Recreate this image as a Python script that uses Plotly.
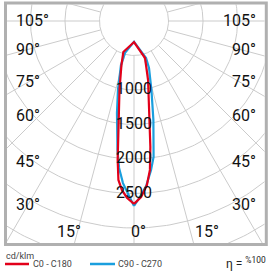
import numpy as np
import plotly.graph_objects as go

# ---------------- data ----------------
# gamma angle in degrees from nadir (negative = left half), intensity in cd/klm
c0_angles = [0, -2.3, -4.1, -5.6, -6.7, -8.6, -11.9, -15.9, -19.0, 0, 16.6, 13.4, 9.6, 7.4, 6.1, 4.5, 2.3, 0]
c0_values = [2650, 2565, 2455, 2315, 2030, 1525, 1020, 665, 475, 305, 560, 880, 1350, 1840, 2170, 2385, 2555, 2650]

c90_angles = [0, -1.6, -3.9, -5.8, -7.3, -10.5, -13.1, -16.5, -15.7, 0, 18.0, 17.7, 14.2, 11.1, 8.2, 6.5, 4.2, 1.95, 0]
c90_values = [2680, 2535, 2355, 2140, 1885, 1355, 1025, 665, 480, 300, 565, 715, 1030, 1460, 1990, 2175, 2400, 2550, 2680]

ring_values = [500, 1000, 1500, 2000, 2500, 3000, 3500]
ring_labels = [1000, 1500, 2000, 2500]
spoke_angles = list(range(-180, 181, 15))
left_angle_labels = ["105°", "90°", "75°", "60°", "45°", "30°"]
bottom_angle_labels = ["15°", "0°", "15°"]
series_names = ["C0 - C180", "C90 - C270"]
unit_label = "cd/klm"
efficiency = "%100"

RED = "#e2001a"
BLUE = "#1a9fde"
GRID = "#cbcbcb"
FONT = "Roboto, Arial, sans-serif"

W, H = 268, 273
CX, CY = 134.0, 21.0      # pixel position of the polar origin
S = 0.069                 # pixels per cd/klm
PL, PR, PT, PB = 7.0, 264.5, 4.5, 243.0   # plot area in pixels


def to_xy(ang, val):
    a = np.radians(np.asarray(ang, float))
    v = np.asarray(val, float)
    return v * np.sin(a), -v * np.cos(a)


fig = go.Figure()

# rings
t = np.linspace(0, 2 * np.pi, 361)
for r in ring_values:
    fig.add_trace(go.Scatter(x=r * np.cos(t), y=r * np.sin(t), mode="lines",
                             line=dict(color=GRID, width=1), hoverinfo="skip", showlegend=False))
# spokes
for a in spoke_angles:
    xs, ys = to_xy([a, a], [ring_values[0], 6000])
    fig.add_trace(go.Scatter(x=xs, y=ys, mode="lines",
                             line=dict(color=GRID, width=1), hoverinfo="skip", showlegend=False))

# curves
for ang, val, col, name in [(c90_angles, c90_values, BLUE, series_names[1]),
                            (c0_angles, c0_values, RED, series_names[0])]:
    xs, ys = to_xy(ang, val)
    fig.add_trace(go.Scatter(x=xs, y=ys, mode="lines", name=name,
                             line=dict(color=col, width=2.2), hoverinfo="skip", showlegend=False))

# ring labels
fig.add_trace(go.Scatter(x=[0] * len(ring_labels), y=[-v for v in ring_labels], mode="text",
                         text=[str(v) for v in ring_labels],
                         textfont=dict(family=FONT, size=16, color="#111"),
                         hoverinfo="skip", showlegend=False))

fig.update_xaxes(range=[(PL - CX) / S, (PR - CX) / S], domain=[PL / W, PR / W],
                 visible=False, fixedrange=True)
fig.update_yaxes(range=[-(PB - CY) / S, (CY - PT) / S], domain=[(H - PB) / H, (H - PT) / H],
                 visible=False, fixedrange=True)


def px(x):
    return x / W


def py(y):
    return 1 - y / H


ann = []
left_ys = [21, 49, 81, 115, 161, 204]
for lab, y in zip(left_angle_labels, left_ys):
    ann.append(dict(x=px(14), y=py(y), text=lab, xanchor="left", yanchor="middle"))
    ann.append(dict(x=px(258), y=py(y), text=lab, xanchor="right", yanchor="middle"))
for lab, x in zip(bottom_angle_labels, [69, 138, 207]):
    ann.append(dict(x=px(x), y=py(231), text=lab, xanchor="center", yanchor="middle"))
for a in ann:
    a.update(xref="paper", yref="paper", showarrow=False,
             font=dict(family=FONT, size=16, color="#111"))

ann += [
    dict(x=px(4), y=py(256), text=unit_label, xanchor="left", yanchor="middle",
         font=dict(family=FONT, size=9, color="#444")),
    dict(x=px(31), y=py(264), text=series_names[0], xanchor="left", yanchor="middle",
         font=dict(family=FONT, size=9, color="#444")),
    dict(x=px(116), y=py(264), text=series_names[1], xanchor="left", yanchor="middle",
         font=dict(family=FONT, size=9, color="#444")),
    dict(x=px(268), y=py(263), text="η = <sup>" + efficiency + "</sup>", xanchor="right",
         yanchor="middle", font=dict(family=FONT, size=12, color="#222")),
]
for a in ann[-4:]:
    a.update(xref="paper", yref="paper", showarrow=False)

shapes = [
    dict(type="rect", xref="paper", yref="paper", x0=px(5.5), x1=px(266.3),
         y0=py(244.5), y1=py(3), line=dict(color="#b0b0b0", width=3), fillcolor="rgba(0,0,0,0)"),
    dict(type="line", xref="paper", yref="paper", x0=px(5), x1=px(29), y0=py(264), y1=py(264),
         line=dict(color=RED, width=2.5)),
    dict(type="line", xref="paper", yref="paper", x0=px(90), x1=px(115), y0=py(264), y1=py(264),
         line=dict(color=BLUE, width=2.5)),
]

fig.update_layout(width=W, height=H, margin=dict(l=0, r=0, t=0, b=0),
                  paper_bgcolor="white", plot_bgcolor="white",
                  annotations=ann, shapes=shapes, showlegend=False)

fig.write_html("out.html", config={"displayModeBar": False},
               post_script="document.body.style.margin='0';document.body.style.padding='0';"
                           "document.body.style.overflow='hidden';"
                           "document.documentElement.style.overflow='hidden';")
